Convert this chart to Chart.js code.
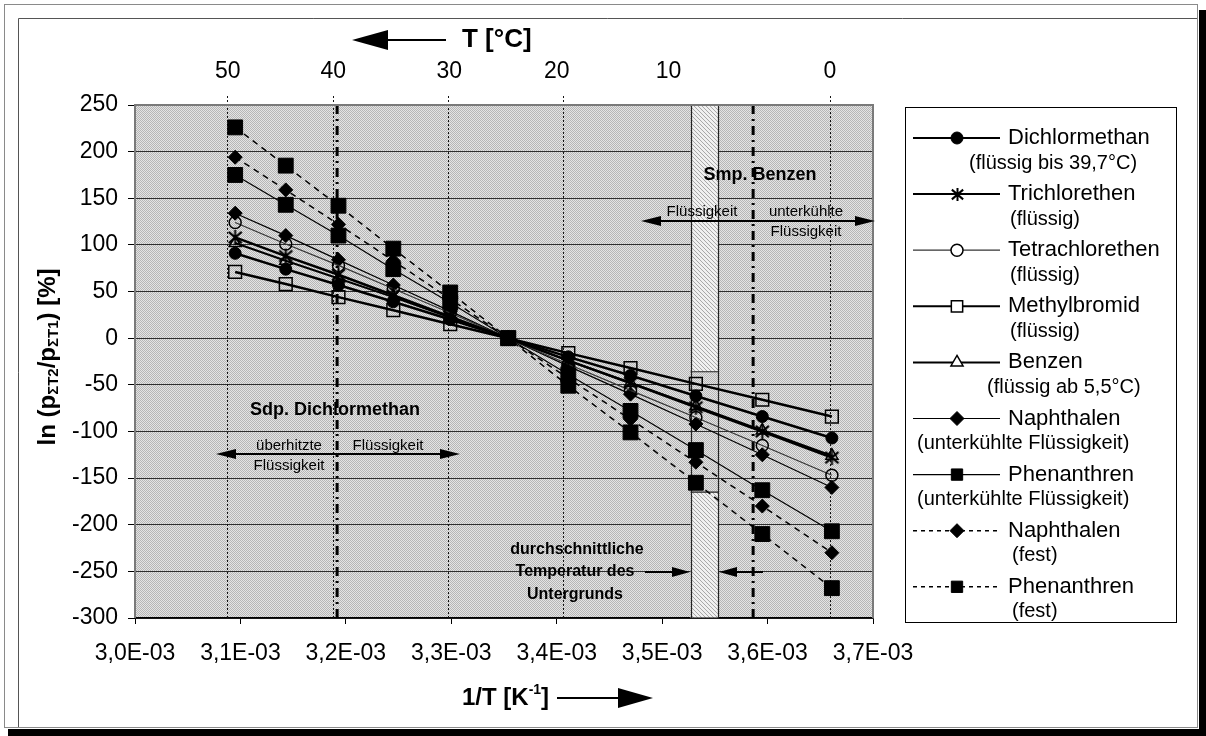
<!DOCTYPE html>
<html><head><meta charset="utf-8">
<script src="https://cdn.jsdelivr.net/npm/chart.js@4.4.1/dist/chart.umd.min.js"></script>
<style>html,body{margin:0;padding:0;background:#fff;}canvas{display:block;}</style>
</head><body>
<canvas id="c" width="1206" height="736"></canvas>
<script>
// ---------- DATA ----------
const invT = [0.003095, 0.003143, 0.003193, 0.003245, 0.003299, 0.003354, 0.003411, 0.003470, 0.003532, 0.003595, 0.003661];
const dichlormethan   = [91, 74, 57, 39, 20, 0, -20, -40, -62, -84, -107];
const trichlorethen   = [108, 88, 68, 46, 23, 0, -24, -48, -74, -100, -128];
const tetrachlorethen = [124, 101, 78, 53, 27, 0, -28, -56, -85, -115, -147];
const methylbromid    = [71, 58, 44, 30, 15, 0, -16, -32, -49, -66, -84];
const benzen          = [102, 83, 64, 44, 22, 0, -24, -48, -73, -99, -126];
const naphthalenLiq   = [134, 110, 84, 57, 29, 0, -30, -60, -92, -125, -160];
const phenanthrenLiq  = [175, 143, 110, 74, 38, 0, -39, -78, -120, -163, -207];
const naphthalenSol   = [194, 159, 122, 83, 42, 0, -43, -87, -133, -180, -230];
const phenanthrenSol  = [226, 185, 142, 96, 49, 0, -51, -101, -155, -210, -268];

const xTickVals   = [0.0030, 0.0031, 0.0032, 0.0033, 0.0034, 0.0035, 0.0036, 0.0037];
const xTickLabels = ['3,0E-03','3,1E-03','3,2E-03','3,3E-03','3,4E-03','3,5E-03','3,6E-03','3,7E-03'];
const topTickPos    = [0.003088, 0.003188, 0.003298, 0.003400, 0.003506, 0.003659];
const topTickLabels = ['50','40','30','20','10','0'];
const dottedLinePos = [0.003087, 0.003188, 0.003297, 0.003406, 0.003659];
const boilDCM   = 0.0031917;   // Sdp. Dichlormethan 39,7 °C
const meltBenz  = 0.0035863;   // Smp. Benzen 5,5 °C
const groundBar = [0.003527, 0.003553];  // durchschnittliche Temperatur des Untergrunds
const groundGap = [-36, -165];

const FAM = '"Liberation Sans", Arial, Helvetica, sans-serif';

// asterisk marker (6 arms)
function makeAsterisk(size, lw){
  const c=document.createElement('canvas'); c.width=size; c.height=size;
  const g=c.getContext('2d'); g.strokeStyle='#000'; g.lineWidth=lw; g.lineCap='butt';
  const m=size/2, r=size/2-1;
  g.beginPath();
  g.moveTo(m,1); g.lineTo(m,size-1);
  g.moveTo(m-r*0.87,m-r*0.75); g.lineTo(m+r*0.87,m+r*0.75);
  g.moveTo(m-r*0.87,m+r*0.75); g.lineTo(m+r*0.87,m-r*0.75);
  g.stroke();
  return c;
}
const asteriskPlot = makeAsterisk(17, 2);
const asteriskLeg  = makeAsterisk(15, 2);

const series = [
  {label:'Dichlormethan',   sub:'(flüssig bis 39,7°C)',       data:dichlormethan,   ps:'circle',   r:6,   fill:'#000', lw:2.5, col:'#000', dash:[],    pbw:1,   subX:969},
  {label:'Trichlorethen',   sub:'(flüssig)',                  data:trichlorethen,   ps:asteriskPlot, leg:asteriskLeg, r:8, fill:'#000', lw:2.5, col:'#000', dash:[], pbw:2, subX:1010},
  {label:'Tetrachlorethen', sub:'(flüssig)',                  data:tetrachlorethen, ps:'circle',   r:6,   fill:'rgba(0,0,0,0)', lw:1.2, col:'#333', dash:[], pbw:1.5, subX:1010},
  {label:'Methylbromid',    sub:'(flüssig)',                  data:methylbromid,    ps:'rect',     r:9,   fill:'rgba(0,0,0,0)', lw:2.5, col:'#000', dash:[], pbw:1.5, subX:1010},
  {label:'Benzen',          sub:'(flüssig ab 5,5°C)',         data:benzen,          ps:'triangle', r:7,   fill:'rgba(0,0,0,0)', lw:2,   col:'#000', dash:[], pbw:1.5, subX:987},
  {label:'Naphthalen',      sub:'(unterkühlte Flüssigkeit)',  data:naphthalenLiq,   ps:'rectRot',  r:7,   fill:'#000', lw:1.2, col:'#000', dash:[],    pbw:1,   subX:917},
  {label:'Phenanthren',     sub:'(unterkühlte Flüssigkeit)',  data:phenanthrenLiq,  ps:'rect',     r:10.5,fill:'#000', lw:1.2, col:'#000', dash:[],    pbw:1,   subX:917},
  {label:'Naphthalen',      sub:'(fest)',                     data:naphthalenSol,   ps:'rectRot',  r:7,   fill:'#000', lw:1.5, col:'#000', dash:[6,5], pbw:1,   subX:1012},
  {label:'Phenanthren',     sub:'(fest)',                     data:phenanthrenSol,  ps:'rect',     r:10.5,fill:'#000', lw:1.5, col:'#000', dash:[6,5], pbw:1,   subX:1012}
];

// ---------- helpers ----------
function makeStipple(ctx){
  const c=document.createElement('canvas'); c.width=2; c.height=2;
  const g=c.getContext('2d');
  g.fillStyle='#e4e4e4'; g.fillRect(0,0,2,2);
  g.fillStyle='#b6b6b6'; g.fillRect(0,0,1,1); g.fillRect(1,1,1,1);
  return ctx.createPattern(c,'repeat');
}
function makeHatch(ctx){
  const c=document.createElement('canvas'); c.width=4; c.height=4;
  const g=c.getContext('2d');
  g.fillStyle='#f0f0f0'; g.fillRect(0,0,4,4);
  g.fillStyle='#a8a8a8';
  for(let i=0;i<4;i++) g.fillRect(i,i,1,1);
  return ctx.createPattern(c,'repeat');
}
function arrowHead(ctx, tipX, tipY, dir, len, half){
  ctx.beginPath();
  ctx.moveTo(tipX, tipY);
  ctx.lineTo(tipX - dir*len, tipY - half);
  ctx.lineTo(tipX - dir*len, tipY + half);
  ctx.closePath(); ctx.fill();
}
function hArrow(ctx, x1, x2, y, lw, len, half, both){
  ctx.save(); ctx.strokeStyle='#000'; ctx.fillStyle='#000'; ctx.lineWidth=lw; ctx.setLineDash([]);
  const dir = x2 > x1 ? 1 : -1;
  ctx.beginPath();
  ctx.moveTo(both ? x1 + dir*len*0.8 : x1, y);
  ctx.lineTo(x2 - dir*len*0.8, y); ctx.stroke();
  arrowHead(ctx, x2, y, dir, len, half);
  if (both) arrowHead(ctx, x1, y, -dir, len, half);
  ctx.restore();
}
function richWidth(ctx, parts){
  let w=0; for(const p of parts){ ctx.font=p.f; w+=ctx.measureText(p.t).width; } return w;
}
function drawRich(ctx, parts, x, y){
  let cx=x;
  for(const p of parts){ ctx.font=p.f; ctx.fillText(p.t, cx, y+(p.dy||0)); cx+=ctx.measureText(p.t).width; }
}
function text(ctx, s, x, y, font, align){
  ctx.font=font; ctx.textAlign=align||'center'; ctx.textBaseline='middle'; ctx.fillStyle='#000'; ctx.fillText(s,x,y);
}
function drawMarker(ctx, s, x, y){
  ctx.save();
  ctx.setLineDash([]);
  if (s.leg) { ctx.drawImage(s.leg, Math.round(x - s.leg.width/2), Math.round(y - s.leg.height/2)); ctx.restore(); return; }
  ctx.fillStyle = s.fill==='#000' ? '#000' : '#fff'; ctx.strokeStyle='#000'; ctx.lineWidth = s.pbw;
  if (Chart.helpers && Chart.helpers.drawPoint) {
    Chart.helpers.drawPoint(ctx, {pointStyle:s.ps, radius:Math.min(s.r,8), rotation:0, borderWidth:s.pbw}, x, y);
  }
  ctx.restore();
}

// ---------- plugin ----------
const deco = {
  id:'deco',
  beforeDraw(chart){
    const ctx=chart.ctx, a=chart.chartArea;
    ctx.save();
    ctx.fillStyle='#fff'; ctx.fillRect(0,0,chart.width,chart.height);
    ctx.fillStyle='#000';
    ctx.fillRect(1199,10,7,726);
    ctx.fillRect(8,729,1198,7);
    ctx.strokeStyle='#8a8a8a'; ctx.lineWidth=1;
    ctx.strokeRect(4.5,4.5,1193,723);
    ctx.strokeStyle='#555';
    ctx.beginPath(); ctx.moveTo(18.5,727); ctx.lineTo(18.5,18.5); ctx.lineTo(1197,18.5); ctx.stroke();
    ctx.fillStyle=makeStipple(ctx);
    ctx.fillRect(a.left,a.top,a.right-a.left,a.bottom-a.top);
    ctx.restore();
  },
  beforeDatasetsDraw(chart){
    const ctx=chart.ctx, a=chart.chartArea, xs=chart.scales.x, ys=chart.scales.y;
    ctx.save();
    const bx1=xs.getPixelForValue(groundBar[0]), bx2=xs.getPixelForValue(groundBar[1]);
    const gTop=ys.getPixelForValue(groundGap[0]), gBot=ys.getPixelForValue(groundGap[1]);
    ctx.fillStyle=makeHatch(ctx);
    ctx.fillRect(bx1,a.top,bx2-bx1,gTop-a.top);
    ctx.fillRect(bx1,gBot,bx2-bx1,a.bottom-gBot);
    ctx.strokeStyle='#222'; ctx.lineWidth=1.2;
    ctx.strokeRect(Math.round(bx1)+0.5,a.top,Math.round(bx2-bx1),a.bottom-a.top);
    ctx.beginPath(); ctx.moveTo(bx1,gTop); ctx.lineTo(bx2,gTop); ctx.moveTo(bx1,gBot); ctx.lineTo(bx2,gBot); ctx.stroke();
    ctx.strokeStyle='#111'; ctx.lineWidth=1; ctx.setLineDash([2,2]);
    for(const v of dottedLinePos){
      const px=Math.round(xs.getPixelForValue(v))+0.5;
      ctx.beginPath(); ctx.moveTo(px,a.top-9); ctx.lineTo(px,a.bottom); ctx.stroke();
    }
    ctx.lineWidth=3; ctx.setLineDash([9,5,2,5]); ctx.strokeStyle='#000';
    for(const v of [boilDCM, meltBenz]){
      const px=xs.getPixelForValue(v);
      ctx.beginPath(); ctx.moveTo(px,a.top); ctx.lineTo(px,a.bottom); ctx.stroke();
    }
    ctx.setLineDash([]);
    ctx.strokeStyle='#7a7a7a'; ctx.lineWidth=2;
    ctx.beginPath(); ctx.moveTo(a.left,a.bottom); ctx.lineTo(a.left,a.top); ctx.lineTo(a.right,a.top); ctx.lineTo(a.right,a.bottom); ctx.stroke();
    ctx.restore();
  },
  afterDatasetsDraw(chart){
    const ctx=chart.ctx;
    ctx.save();
    ctx.fillStyle='#000';
    text(ctx,'Smp. Benzen',760,175,'bold 18px '+FAM);
    hArrow(ctx,641,875,221,2,20,5,true);
    text(ctx,'Flüssigkeit',702,212,'15px '+FAM);
    text(ctx,'unterkühlte',806,212,'15px '+FAM);
    text(ctx,'Flüssigkeit',806,232,'15px '+FAM);
    text(ctx,'Sdp. Dichlormethan',335,410,'bold 18px '+FAM);
    hArrow(ctx,216,460,454,2,20,5,true);
    text(ctx,'überhitzte',289,446,'15px '+FAM);
    text(ctx,'Flüssigkeit',289,466,'15px '+FAM);
    text(ctx,'Flüssigkeit',388,446,'15px '+FAM);
    text(ctx,'durchschnittliche',577,550,'bold 16px '+FAM);
    text(ctx,'Temperatur des',575,572,'bold 16px '+FAM);
    text(ctx,'Untergrunds',575,595,'bold 16px '+FAM);
    hArrow(ctx,645,690,572,2,18,5,false);
    hArrow(ctx,763,719,572,2,18,5,false);
    text(ctx,'T [°C]',462,40,'bold 26px '+FAM,'left');
    hArrow(ctx,446,352,40,2,36,10,false);
    ctx.textAlign='left'; ctx.textBaseline='middle';
    drawRich(ctx,[{t:'1/T [K',f:'bold 24px '+FAM},{t:'-1',f:'bold 14px '+FAM,dy:-8},{t:']',f:'bold 24px '+FAM}],462,698);
    hArrow(ctx,557,653,698,2,35,10,false);
    const yparts=[{t:'ln (p',f:'bold 24px '+FAM},{t:'ΣT2',f:'bold 15px '+FAM,dy:6},{t:'/p',f:'bold 24px '+FAM},{t:'ΣT1',f:'bold 15px '+FAM,dy:6},{t:') [%]',f:'bold 24px '+FAM}];
    ctx.save(); ctx.translate(48,357); ctx.rotate(-Math.PI/2);
    const w=richWidth(ctx,yparts);
    ctx.textAlign='left'; ctx.textBaseline='middle';
    drawRich(ctx,yparts,-w/2,0);
    ctx.restore();
    ctx.fillStyle='#fff'; ctx.fillRect(905,107,271,515);
    ctx.strokeStyle='#000'; ctx.lineWidth=1; ctx.strokeRect(905.5,107.5,271,515);
    series.forEach((s,i)=>{
      const y=138+i*56.1;
      ctx.save();
      ctx.strokeStyle=s.col; ctx.lineWidth=Math.min(s.lw,2); ctx.setLineDash(s.dash.length?[4,4]:[]);
      ctx.beginPath(); ctx.moveTo(913,y); ctx.lineTo(1000,y); ctx.stroke();
      ctx.restore();
      drawMarker(ctx, s, 957, y);
      text(ctx,s.label,1008,y,'22px '+FAM,'left');
      text(ctx,s.sub,s.subX,y+25,'20px '+FAM,'left');
    });
    ctx.restore();
  }
};

const datasets = series.map(s => ({
  label: s.label,
  data: invT.map((x,i)=>({x:x, y:s.data[i]})),
  borderColor: s.col, borderWidth: s.lw, borderDash: s.dash,
  pointStyle: s.ps, pointRadius: s.r, pointHoverRadius: s.r,
  pointBackgroundColor: s.fill, pointBorderColor:'#000', pointBorderWidth: s.pbw,
  fill:false, tension:0, showLine:true
}));

new Chart(document.getElementById('c'), {
  type:'line',
  data:{datasets},
  options:{
    responsive:false, animation:false, devicePixelRatio:1,
    layout:{padding:{left:0,right:333,top:0,bottom:0}},
    plugins:{legend:{display:false}, tooltip:{enabled:false}},
    scales:{
      x:{type:'linear', position:'bottom', min:0.0030, max:0.0037,
        afterBuildTicks:a=>{a.ticks=xTickVals.map(v=>({value:v}));},
        ticks:{callback:(v,i)=>xTickLabels[i], font:{size:23,family:FAM}, color:'#000', padding:16, maxRotation:0, autoSkip:false},
        grid:{drawOnChartArea:false, drawTicks:true, tickLength:6, color:'#000'},
        border:{color:'#000', width:1.5},
        afterFit:a=>{a.height=118;}
      },
      xTop:{type:'linear', position:'top', min:0.0030, max:0.0037,
        afterBuildTicks:a=>{a.ticks=topTickPos.map(v=>({value:v}));},
        ticks:{callback:(v,i)=>topTickLabels[i], font:{size:23,family:FAM}, color:'#000', padding:20, maxRotation:0, autoSkip:false},
        grid:{display:false, drawTicks:false},
        border:{display:false},
        afterFit:a=>{a.height=105;}
      },
      y:{type:'linear', min:-300, max:250,
        ticks:{stepSize:50, font:{size:23,family:FAM}, color:'#000', padding:10},
        grid:{color:'#2e2e2e', lineWidth:1, drawTicks:true, tickLength:7, tickColor:'#000'},
        border:{display:false},
        afterFit:a=>{a.width=135;}
      }
    }
  },
  plugins:[deco]
});
</script>
</body></html>
